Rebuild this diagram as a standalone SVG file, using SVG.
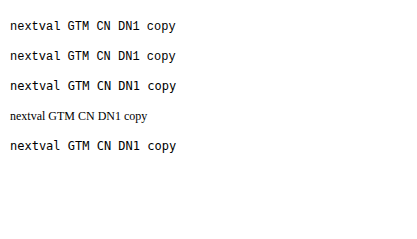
<svg xmlns="http://www.w3.org/2000/svg" width="417" height="239" viewBox="0 0 417 239">
<text x="10" y="30" font-family="Liberation Mono" font-size="12">nextval GTM CN DN1 copy</text>
<text x="10" y="60" font-family="'Liberation Mono'" font-size="12">nextval GTM CN DN1 copy</text>
<text x="10" y="90" font-family="DejaVu Sans Mono" font-size="12">nextval GTM CN DN1 copy</text>
<text x="10" y="120" font-family="Liberation Serif" font-size="12">nextval GTM CN DN1 copy</text>
<text x="10" y="150" font-family="monospace" font-size="12">nextval GTM CN DN1 copy</text>
</svg>
